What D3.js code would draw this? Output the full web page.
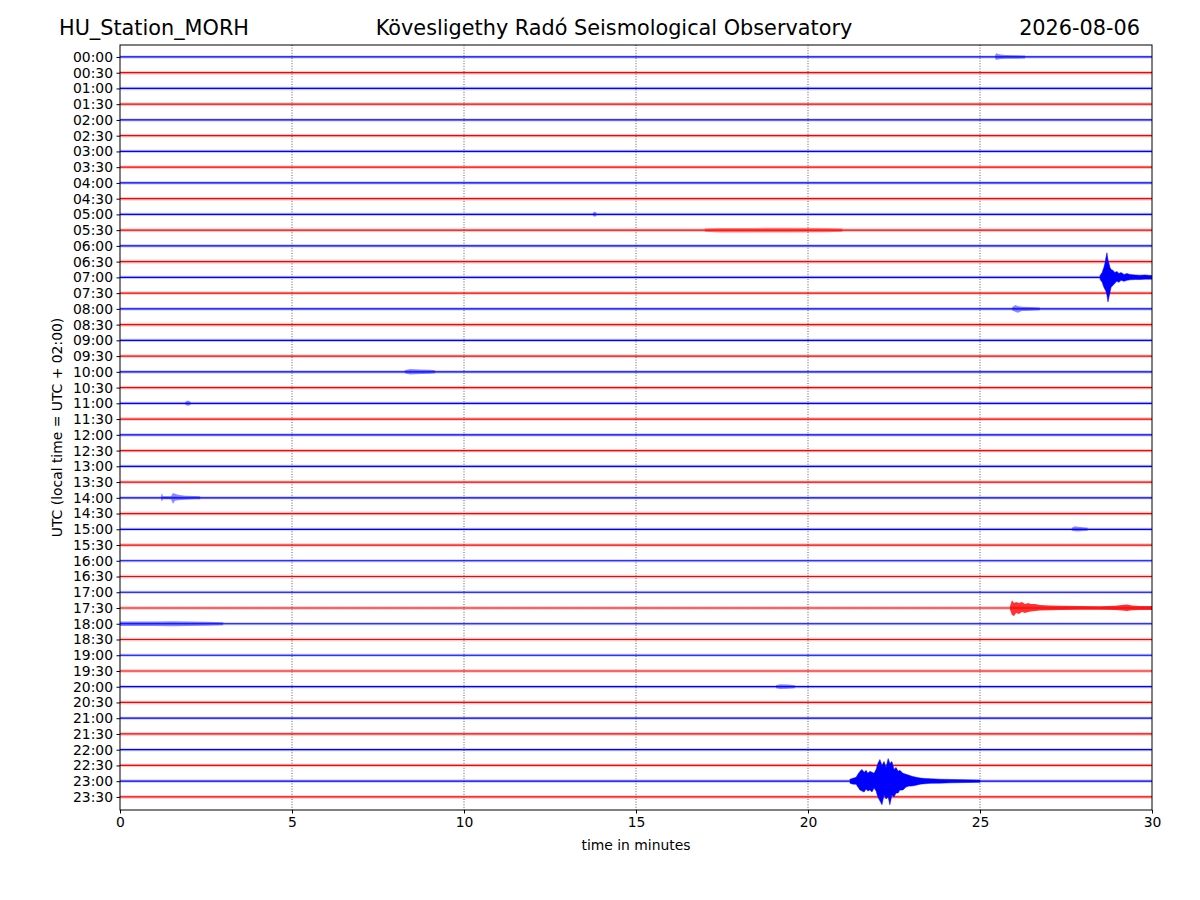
<!DOCTYPE html>
<html>
<head>
<meta charset="utf-8">
<script src="https://cdn.jsdelivr.net/npm/d3@7"></script>
<style>
  body { margin: 0; background: #fff; }
  text { font-family: "DejaVu Sans", sans-serif; }
</style>
</head>
<body>
<div id="chart"></div>
<script>
// Titles
const stationName = "HU_Station_MORH";
const observatory = "Kövesligethy Radó Seismological Observatory";
const dayLabel = "2026-08-06";

// One trace per half hour
const rowLabels = [
  "00:00", "00:30", "01:00", "01:30", "02:00", "02:30", "03:00", "03:30",
  "04:00", "04:30", "05:00", "05:30", "06:00", "06:30", "07:00", "07:30",
  "08:00", "08:30", "09:00", "09:30", "10:00", "10:30", "11:00", "11:30",
  "12:00", "12:30", "13:00", "13:30", "14:00", "14:30", "15:00", "15:30",
  "16:00", "16:30", "17:00", "17:30", "18:00", "18:30", "19:00", "19:30",
  "20:00", "20:30", "21:00", "21:30", "22:00", "22:30", "23:00", "23:30"
];
const xTicks = [0, 5, 10, 15, 20, 25, 30];
const xGrid = [5, 10, 15, 20, 25];

// background noise half-width of every trace (amplitude units, 16 = one row)
const baseNoise = [
  1.6, 1.8, 1.7, 1.8, 1.5, 1.7, 1.6, 1.8, 1.6, 1.8, 1.6, 1.8,
  1.6, 1.8, 1.6, 1.7, 1.6, 1.8, 1.6, 1.7, 1.6, 1.7, 1.6, 1.8,
  1.6, 1.7, 1.6, 1.7, 1.6, 1.7, 1.6, 1.7, 1.6, 1.7, 1.5, 1.7,
  1.6, 1.7, 1.6, 1.7, 1.6, 1.7, 1.6, 1.7, 1.6, 1.7, 1.6, 1.8
];

// envelopes of the events: minute, upward and downward amplitude
const ev0700_t  = [28.49, 28.55, 28.60, 28.63, 28.66, 28.69, 28.72, 28.75, 28.78, 28.81, 28.87, 28.92, 28.98, 29.04, 29.10, 29.19, 29.27, 29.36, 29.51, 29.65, 29.80, 30.00];
const ev0700_up = [2, 5, 10, 14, 20, 25, 18, 14, 10, 8, 7, 5, 6, 4, 5, 3, 4, 3, 2.5, 2.2, 2.5, 1.8];
const ev0700_dn = [2, 5, 10, 12, 14, 18, 25, 20, 15, 10, 8, 6, 4, 5, 3, 4, 3, 2.5, 2.2, 2.2, 1.8, 1.8];

const ev2300_t  = [21.22, 21.31, 21.40, 21.45, 21.51, 21.57, 21.63, 21.69, 21.74, 21.80, 21.86, 21.92, 21.98, 22.03, 22.09, 22.15, 22.21, 22.27, 22.33, 22.38, 22.44, 22.50, 22.56, 22.62, 22.67, 22.76, 22.85, 22.94, 23.02, 23.14, 23.26, 23.40, 23.55, 23.84, 24.13, 24.56, 25.00];
const ev2300_up = [2, 3, 4, 7, 10, 12, 9, 11, 8, 10, 9, 8, 12, 18, 22, 16, 20, 14, 23, 18, 20, 12, 14, 10, 11, 8, 7, 6, 5, 4, 3.2, 2.8, 2.5, 2, 1.8, 1.4, 1.1];
const ev2300_dn = [2, 3, 3, 6, 9, 10, 11, 8, 10, 9, 11, 7, 10, 16, 20, 24, 14, 18, 16, 24, 14, 16, 12, 12, 9, 9, 6, 5, 5, 4, 3, 2.6, 2.2, 2, 1.7, 1.4, 1.1];

const ev1730_t  = [25.87, 25.93, 25.99, 26.05, 26.13, 26.22, 26.31, 26.40, 26.48, 26.60, 26.74, 27.03, 27.33, 27.91, 28.49, 28.92, 29.13, 29.27, 29.42, 29.65, 30.00];
const ev1730_up = [1.5, 8, 5, 6, 5, 6, 4, 5, 4, 4, 3, 2.6, 2.2, 2, 1.8, 2.2, 3, 3.5, 2.6, 2, 2];
const ev1730_dn = [1.5, 7, 8, 5, 6, 4, 5, 4, 3.5, 3, 2.6, 2.2, 2, 1.8, 1.8, 2, 2.6, 3, 2.4, 2, 2];

const ev0000_t  = [25.44, 25.47, 25.52, 25.61, 25.73, 26.02, 26.31];
const ev0000_up = [1.5, 4, 3, 2.5, 2, 1.8, 1.5];
const ev0000_dn = [1.5, 3, 2.5, 2, 1.8, 1.8, 1.5];

const ev0800_t  = [25.93, 26.02, 26.10, 26.22, 26.45, 26.74];
const ev0800_up = [1.5, 4, 3, 2.2, 1.8, 1.5];
const ev0800_dn = [1.5, 3, 4, 2.2, 1.8, 1.5];

const ev1400_t  = [1.19, 1.22, 1.25, 1.48, 1.54, 1.60, 1.69, 1.89, 2.18, 2.33];
const ev1400_up = [1.5, 5, 1.5, 1.5, 5, 4, 3, 2, 1.8, 1.5];
const ev1400_dn = [1.5, 4, 1.5, 1.5, 6, 3, 2.5, 2, 1.5, 1.5];

const ev1500_t  = [27.67, 27.76, 27.85, 27.99, 28.13];
const ev1500_up = [1.5, 3, 2.5, 2, 1.5];
const ev1500_dn = [1.5, 2, 2.2, 1.8, 1.5];

const ev2000_t  = [19.07, 19.19, 19.42, 19.62];
const ev2000_up = [1.5, 2.4, 2.2, 1.5];
const ev2000_dn = [1.5, 2.2, 2, 1.5];

const ev1000_t  = [8.28, 8.43, 8.72, 9.01, 9.16];
const ev1000_up = [1.5, 2.8, 2.3, 2.2, 1.5];
const ev1000_dn = [1.5, 2.6, 2.3, 2, 1.5];

const ev1800_t  = [0.00, 1.00, 1.50, 2.50, 3.00];
const ev1800_up = [2.2, 2.2, 2.5, 2.1, 1.6];
const ev1800_dn = [2.2, 2.2, 2.5, 2.1, 1.6];

const ev0530_t  = [17.00, 17.40, 18.50, 19.50, 20.50, 21.00];
const ev0530_up = [1.7, 2.3, 2.3, 2.5, 2.2, 1.7];
const ev0530_dn = [1.7, 2.3, 2.3, 2.5, 2.2, 1.7];

const ev0500_t  = [13.75, 13.80, 13.85];
const ev0500_up = [1.6, 3, 1.6];
const ev0500_dn = [1.6, 2.5, 1.6];

const ev1100_t  = [1.90, 1.97, 2.05];
const ev1100_up = [1.6, 3, 1.6];
const ev1100_dn = [1.6, 2.5, 1.6];

const events = [
  { row: "07:00", t: ev0700_t, up: ev0700_up, dn: ev0700_dn },
  { row: "23:00", t: ev2300_t, up: ev2300_up, dn: ev2300_dn },
  { row: "17:30", t: ev1730_t, up: ev1730_up, dn: ev1730_dn },
  { row: "00:00", t: ev0000_t, up: ev0000_up, dn: ev0000_dn },
  { row: "08:00", t: ev0800_t, up: ev0800_up, dn: ev0800_dn },
  { row: "14:00", t: ev1400_t, up: ev1400_up, dn: ev1400_dn },
  { row: "15:00", t: ev1500_t, up: ev1500_up, dn: ev1500_dn },
  { row: "20:00", t: ev2000_t, up: ev2000_up, dn: ev2000_dn },
  { row: "10:00", t: ev1000_t, up: ev1000_up, dn: ev1000_dn },
  { row: "18:00", t: ev1800_t, up: ev1800_up, dn: ev1800_dn },
  { row: "05:30", t: ev0530_t, up: ev0530_up, dn: ev0530_dn },
  { row: "05:00", t: ev0500_t, up: ev0500_up, dn: ev0500_dn },
  { row: "11:00", t: ev1100_t, up: ev1100_up, dn: ev1100_dn }
];

// amplitude units that fill one row spacing
const rowAmp = 16;

// figure size and plot box
const width = 1200;
const height = 900;
const margin = { top: 45, right: 48, bottom: 90, left: 120 };

const svg = d3.select("#chart")
  .append("svg")
  .attr("width", width)
  .attr("height", height);

const x = d3.scaleLinear()
  .domain([0, 30])
  .range([margin.left, width - margin.right]);

const y = d3.scaleLinear()
  .domain([-0.76, 47.83])
  .range([margin.top, height - margin.bottom]);

const rowColor = i => (i % 2 === 0 ? "#0000ff" : "#ff0000");

svg.append("clipPath")
  .attr("id", "plot-clip")
  .append("rect")
  .attr("x", margin.left)
  .attr("y", margin.top)
  .attr("width", width - margin.left - margin.right)
  .attr("height", height - margin.top - margin.bottom);

// dotted vertical grid
svg.append("g")
  .selectAll("line")
  .data(xGrid)
  .enter()
  .append("line")
  .attr("x1", d => x(d))
  .attr("x2", d => x(d))
  .attr("y1", margin.top)
  .attr("y2", height - margin.bottom)
  .attr("stroke", "#333")
  .attr("stroke-width", 0.8)
  .attr("stroke-dasharray", "1,1.6");

const plot = svg.append("g").attr("clip-path", "url(#plot-clip)");

// noise band of each trace
const band = d3.area()
  .x(d => x(d.t))
  .y0(d => y(d.row - d.up / rowAmp))
  .y1(d => y(d.row + d.dn / rowAmp));

plot.selectAll(".noise")
  .data(rowLabels)
  .enter()
  .append("path")
  .attr("class", "noise")
  .attr("d", (d, i) => band([
    { t: 0, row: i, up: baseNoise[i], dn: baseNoise[i] },
    { t: 30, row: i, up: baseNoise[i], dn: baseNoise[i] }
  ]))
  .attr("fill", (d, i) => rowColor(i))
  .attr("opacity", 0.22);

// solid centre of each trace
plot.selectAll(".trace")
  .data(rowLabels)
  .enter()
  .append("line")
  .attr("class", "trace")
  .attr("x1", x(0))
  .attr("x2", x(30))
  .attr("y1", (d, i) => y(i))
  .attr("y2", (d, i) => y(i))
  .attr("stroke", (d, i) => rowColor(i))
  .attr("stroke-width", 1.2);

// events: the big ones drawn solid, small bursts only as a darker haze
const peak = ev => d3.max(ev.up.concat(ev.dn));

plot.selectAll(".event")
  .data(events)
  .enter()
  .append("path")
  .attr("class", "event")
  .attr("d", ev => {
    const r = rowLabels.indexOf(ev.row);
    return band(ev.t.map((t, k) => ({ t: t, row: r, up: ev.up[k], dn: ev.dn[k] })));
  })
  .attr("fill", ev => rowColor(rowLabels.indexOf(ev.row)))
  .attr("opacity", ev => (peak(ev) > 12 ? 1 : peak(ev) > 6 ? 0.8 : 0.45))
  .attr("stroke", ev => rowColor(rowLabels.indexOf(ev.row)))
  .attr("stroke-width", ev => (peak(ev) > 12 ? 0.5 : 0));

// frame
svg.append("rect")
  .attr("x", margin.left)
  .attr("y", margin.top)
  .attr("width", width - margin.left - margin.right)
  .attr("height", height - margin.top - margin.bottom)
  .attr("fill", "none")
  .attr("stroke", "#000")
  .attr("stroke-width", 1);

// y axis with the half-hour labels
const yAxis = svg.append("g")
  .attr("transform", "translate(" + margin.left + ",0)")
  .call(d3.axisLeft(y)
    .tickValues(d3.range(rowLabels.length))
    .tickFormat(i => rowLabels[i])
    .tickSize(3.5)
    .tickPadding(3.5));
yAxis.select(".domain").remove();
yAxis.selectAll("text")
  .style("font-size", "13.9px")
  .style("font-family", "DejaVu Sans")
  .attr("fill", "#000");

// x axis
const xAxis = svg.append("g")
  .attr("transform", "translate(0," + (height - margin.bottom) + ")")
  .call(d3.axisBottom(x)
    .tickValues(xTicks)
    .tickSize(3.5)
    .tickPadding(3.5));
xAxis.select(".domain").remove();
xAxis.selectAll("text")
  .style("font-size", "13.9px")
  .style("font-family", "DejaVu Sans")
  .attr("fill", "#000");

// axis titles
svg.append("text")
  .attr("x", (margin.left + width - margin.right) / 2)
  .attr("y", 850)
  .attr("text-anchor", "middle")
  .style("font-size", "13.9px")
  .text("time in minutes");

svg.append("text")
  .attr("transform", "translate(62," + (margin.top + height - margin.bottom) / 2 + ") rotate(-90)")
  .attr("text-anchor", "middle")
  .style("font-size", "13.9px")
  .text("UTC (local time = UTC + 02:00)");

// titles on top
svg.append("text")
  .attr("x", 59)
  .attr("y", 35)
  .attr("text-anchor", "start")
  .style("font-size", "20.8px")
  .text(stationName);

svg.append("text")
  .attr("x", 614)
  .attr("y", 35)
  .attr("text-anchor", "middle")
  .style("font-size", "20.8px")
  .text(observatory);

svg.append("text")
  .attr("x", 1140)
  .attr("y", 35)
  .attr("text-anchor", "end")
  .style("font-size", "20.8px")
  .text(dayLabel);
</script>
</body>
</html>
